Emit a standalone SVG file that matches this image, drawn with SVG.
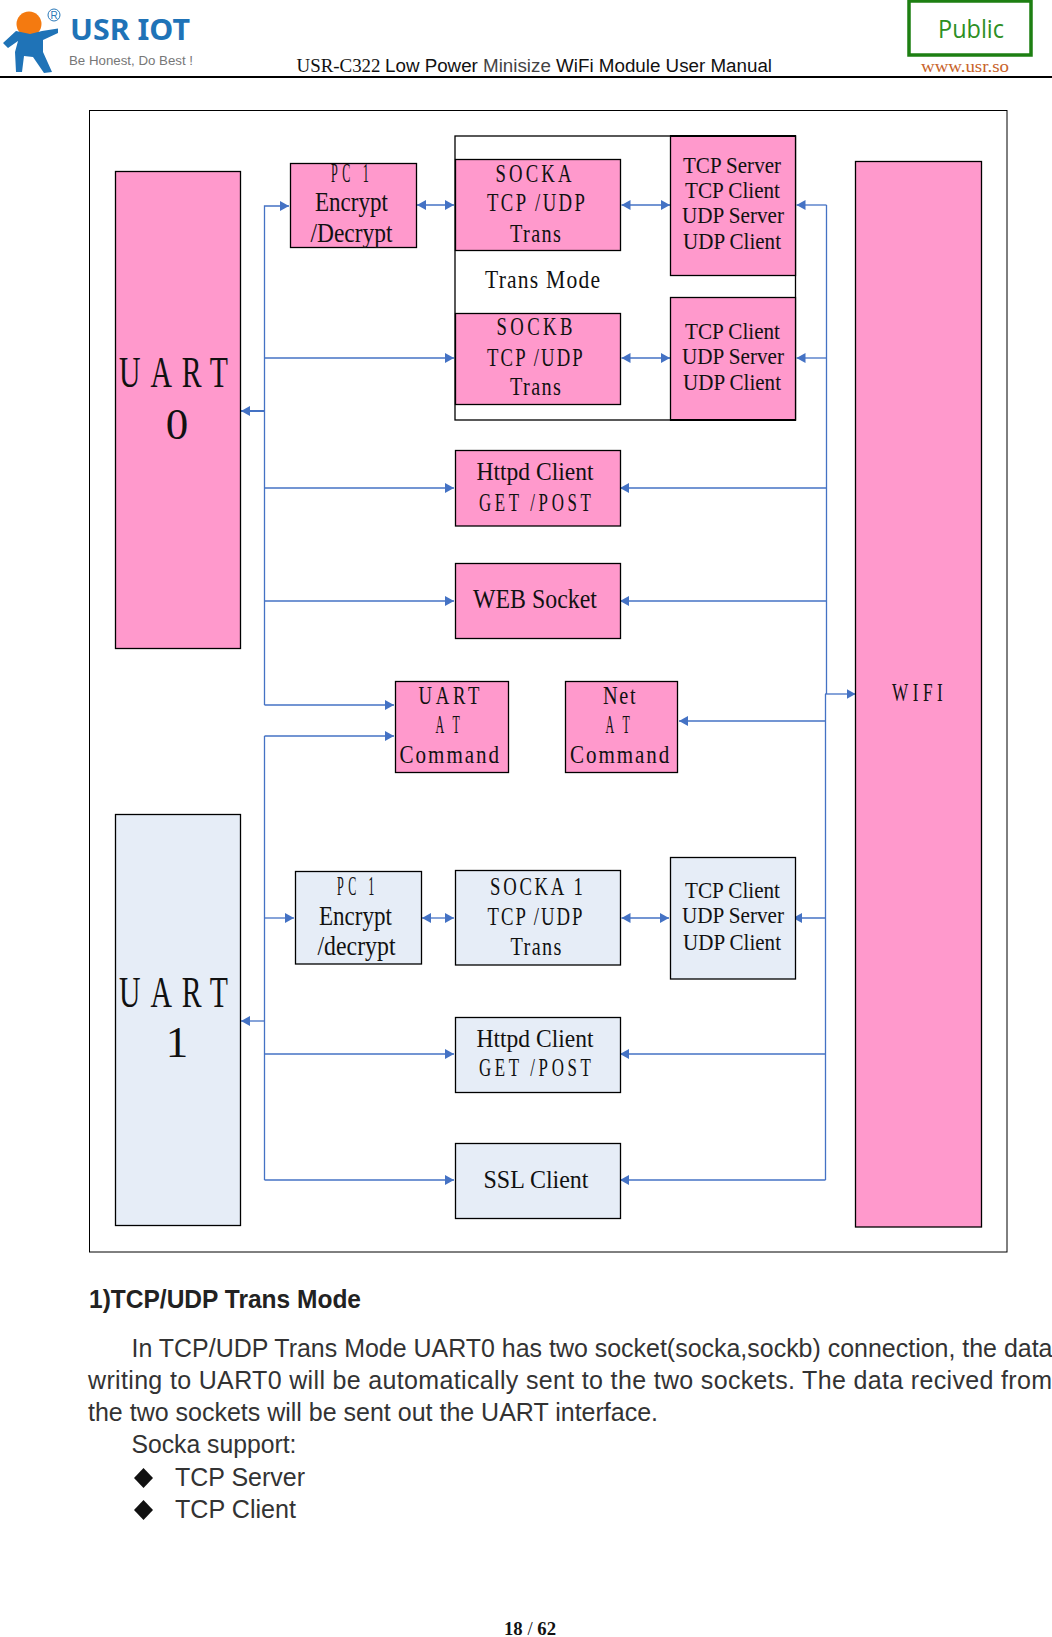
<svg xmlns="http://www.w3.org/2000/svg" width="1052" height="1637" viewBox="0 0 1052 1637">
<style>
text{white-space:pre}
.t{font-family:"Liberation Serif","Times New Roman",serif;fill:#111}
.s24{font-size:26px}.s22{font-size:23px}.s26{font-size:27px}.s40{font-size:45px}
.a{font-family:"Liberation Sans",Arial,sans-serif;fill:#333;font-size:25px}
.pink{fill:#ff99cc;stroke:#000;stroke-width:1.3}
.blue{fill:#e6edf7;stroke:#000;stroke-width:1.3}
.c{fill:none;stroke:#4472c4;stroke-width:1.3}
.e{marker-end:url(#ah)}
.d{marker-start:url(#ahs);marker-end:url(#ah)}
</style>
<defs>
<marker id="ah" markerUnits="userSpaceOnUse" markerWidth="10" markerHeight="12" refX="9" refY="6" orient="auto"><path d="M0 1L9 6L0 11Z" fill="#4472c4"/></marker>
<marker id="ahs" markerUnits="userSpaceOnUse" markerWidth="10" markerHeight="12" refX="1" refY="6" orient="auto"><path d="M10 1L1 6L10 11Z" fill="#4472c4"/></marker>
</defs>
<rect width="1052" height="1637" fill="#fff"/>

<g id="header">
<circle cx="29" cy="24" r="12.500" fill="#f47a10"/>
<path d="M3 43L16 31L30 34L42 31L58 28.500L58 33L43 40L43 52L52 72L44 73L33 57L24 56L22 72L16 72L15 52L18 41L8 48Z" fill="#1f73b7"/>
<circle cx="54" cy="15" r="6" fill="none" stroke="#2a78b8" stroke-width="1"/>
<text x="54" y="19" text-anchor="middle" font-family="Liberation Sans,sans-serif" font-size="10" fill="#2a78b8">R</text>
<text x="70" y="40" font-family="'Noto Sans',sans-serif" font-weight="700" font-size="29" fill="#1f73b7" textLength="120" lengthAdjust="spacingAndGlyphs">USR IOT</text>
<text x="69" y="65" font-family="'Liberation Sans',sans-serif" font-size="13" fill="#777" textLength="124" lengthAdjust="spacingAndGlyphs">Be Honest, Do Best !</text>
<text x="296.500" y="72" class="t" font-size="18" textLength="84" lengthAdjust="spacingAndGlyphs">USR-C322</text>
<text x="385" y="72" font-family="'Liberation Sans',sans-serif" font-size="18" fill="#111" textLength="387" lengthAdjust="spacingAndGlyphs">Low Power <tspan fill="#444">Minisize</tspan> WiFi Module User Manual</text>
<rect x="909" y="1" width="122" height="54" fill="#fff" stroke="#1d7f12" stroke-width="3.500"/>
<text x="971" y="38" text-anchor="middle" font-family="'Open Sans',sans-serif" font-size="25" font-weight="400" fill="#2d8f23" textLength="66" lengthAdjust="spacingAndGlyphs">Public</text>
<text x="921" y="72" class="t" font-size="16" style="fill:#c8632a" textLength="88" lengthAdjust="spacingAndGlyphs">www.usr.so</text>
<rect x="0" y="76" width="1052" height="2" fill="#000"/>
</g>

<rect id="frame" x="89.500" y="110.500" width="917.500" height="1141.500" fill="#fff" stroke="#000" stroke-width="1"/>
<rect id="trans-mode-box" x="455" y="136" width="340.500" height="284" fill="#fff" stroke="#000" stroke-width="1.300"/>

<g id="connectors">
<path class="c e" d="M264.500 705H394"/>
<path class="c e" d="M264.500 705V206H289"/>
<path class="c e" d="M264.500 358H454"/>
<path class="c e" d="M264.500 488H454"/>
<path class="c e" d="M264.500 601H454"/>
<path class="c e" style="stroke-width:2" d="M264.500 411H241"/>
<path class="c e" d="M264.500 736H394"/>
<path class="c" d="M264.500 736V1180"/>
<path class="c e" d="M264.500 918H294"/>
<path class="c e" d="M264.500 1054H454"/>
<path class="c e" d="M264.500 1180H454"/>
<path class="c e" d="M264.500 1021H241"/>
<path class="c d" d="M417 205H454"/>
<path class="c d" d="M621.500 205H670"/>
<path class="c d" d="M621.500 358H670"/>
<path class="c d" d="M422 918H454"/>
<path class="c d" d="M621.500 918H669"/>
<path class="c e" d="M826.500 205H796.500"/>
<path class="c e" d="M826.500 358H796.500"/>
<path class="c" d="M826.500 205V694"/>
<path class="c e" d="M826.500 488H620"/>
<path class="c e" d="M826.500 601H620"/>
<path class="c e" d="M825 694H855.500"/>
<path class="c" d="M825.500 694V1180"/>
<path class="c e" d="M825.500 721H679"/>
<path class="c e" d="M825.500 918H793"/>
<path class="c e" d="M825.500 1054H620"/>
<path class="c e" d="M825.500 1180H620"/>
</g>

<g id="uart0"><rect class="pink" x="115.500" y="171.500" width="125" height="477"/>
<text class="t s40" transform="translate(119 387) scale(.66 1)" textLength="165">UART</text>
<text class="t s40" x="177" y="439" text-anchor="middle">0</text></g>

<g id="pc1-a"><rect class="pink" x="290.500" y="163.500" width="126" height="84"/>
<text class="t s26" transform="translate(331 182) scale(.45 1)" textLength="84">PC 1</text>
<text class="t s26" x="315" y="211" textLength="73" lengthAdjust="spacingAndGlyphs">Encrypt</text>
<text class="t s26" x="310.500" y="241.500" textLength="82" lengthAdjust="spacingAndGlyphs">/Decrypt</text></g>

<g id="socka"><rect class="pink" x="455.500" y="159.500" width="165" height="91"/>
<text class="t s24" transform="translate(495.500 182) scale(.72 1)" textLength="105.600">SOCKA</text>
<text class="t s24" transform="translate(487 211) scale(.72 1)" textLength="136">TCP /UDP</text>
<text class="t s24" transform="translate(510 241.500) scale(.78 1)" textLength="65.400">Trans</text></g>

<g id="sockb"><rect class="pink" x="455.500" y="313.500" width="165" height="91"/>
<text class="t s24" transform="translate(496.500 335) scale(.72 1)" textLength="105.600">SOCKB</text>
<text class="t s24" transform="translate(487 366) scale(.72 1)" textLength="133">TCP /UDP</text>
<text class="t s24" transform="translate(510 395) scale(.78 1)" textLength="65.400">Trans</text></g>

<text id="trans-mode" class="t s24" transform="translate(485 288) scale(.83 1)" textLength="138.600">Trans Mode</text>

<g id="modes-a"><rect class="pink" x="670.500" y="136" width="125" height="139.500"/>
<path d="M670 136H796" stroke="#000" stroke-width="2"/>
<text class="t s22" x="683" y="173" textLength="98" lengthAdjust="spacingAndGlyphs">TCP Server</text>
<text class="t s22" x="685" y="198" textLength="95" lengthAdjust="spacingAndGlyphs">TCP Client</text>
<text class="t s22" x="682" y="223" textLength="102" lengthAdjust="spacingAndGlyphs">UDP Server</text>
<text class="t s22" x="683" y="249" textLength="98" lengthAdjust="spacingAndGlyphs">UDP Client</text></g>

<g id="modes-b"><rect class="pink" x="670.500" y="297.500" width="125" height="122.500"/>
<path d="M670 420H796" stroke="#000" stroke-width="2"/>
<text class="t s22" x="685" y="339" textLength="95" lengthAdjust="spacingAndGlyphs">TCP Client</text>
<text class="t s22" x="682" y="364" textLength="102" lengthAdjust="spacingAndGlyphs">UDP Server</text>
<text class="t s22" x="683" y="390" textLength="98" lengthAdjust="spacingAndGlyphs">UDP Client</text></g>

<g id="httpd-a"><rect class="pink" x="455.500" y="450.500" width="165" height="75.500"/>
<text class="t s24" x="476.500" y="480" textLength="117" lengthAdjust="spacingAndGlyphs">Httpd Client</text>
<text class="t s24" transform="translate(479 511) scale(.65 1)" textLength="172">GET /POST</text></g>

<g id="web-socket"><rect class="pink" x="455.500" y="563.500" width="165" height="75"/>
<text class="t s26" x="473" y="608" textLength="124" lengthAdjust="spacingAndGlyphs">WEB Socket</text></g>

<g id="uart-at"><rect class="pink" x="395.500" y="681.500" width="113" height="91"/>
<text class="t s24" transform="translate(418.500 704) scale(.72 1)" textLength="84.700">UART</text>
<text class="t s24" transform="translate(435.500 733) scale(.46 1)" textLength="53">AT</text>
<text class="t s24" transform="translate(399.500 763) scale(.81 1)" textLength="123">Command</text></g>

<g id="net-at"><rect class="pink" x="565.500" y="681.500" width="112" height="91"/>
<text class="t s24" transform="translate(603 704) scale(.78 1)" textLength="41.700">Net</text>
<text class="t s24" transform="translate(605.500 733) scale(.46 1)" textLength="53">AT</text>
<text class="t s24" transform="translate(570 763) scale(.81 1)" textLength="122.500">Command</text></g>

<g id="uart1"><rect class="blue" x="115.500" y="814.500" width="125" height="411"/>
<text class="t s40" transform="translate(119 1007) scale(.66 1)" textLength="165">UART</text>
<text class="t s40" x="177" y="1057" text-anchor="middle">1</text></g>

<g id="pc1-b"><rect class="blue" x="295.500" y="871.500" width="126" height="92.500"/>
<text class="t s26" transform="translate(337 895) scale(.45 1)" textLength="83">PC 1</text>
<text class="t s26" x="319" y="925" textLength="73" lengthAdjust="spacingAndGlyphs">Encrypt</text>
<text class="t s26" x="317.500" y="955" textLength="78" lengthAdjust="spacingAndGlyphs">/decrypt</text></g>

<g id="socka1"><rect class="blue" x="455.500" y="870.500" width="165" height="94.500"/>
<text class="t s24" transform="translate(490 895) scale(.72 1)" textLength="129">SOCKA 1</text>
<text class="t s24" transform="translate(487.500 925) scale(.72 1)" textLength="132">TCP /UDP</text>
<text class="t s24" transform="translate(510.500 955) scale(.78 1)" textLength="65.400">Trans</text></g>

<g id="modes-c"><rect class="blue" x="670.500" y="857.500" width="125" height="121.500"/>
<text class="t s22" x="685" y="898" textLength="95" lengthAdjust="spacingAndGlyphs">TCP Client</text>
<text class="t s22" x="682" y="923" textLength="102" lengthAdjust="spacingAndGlyphs">UDP Server</text>
<text class="t s22" x="683" y="950" textLength="98" lengthAdjust="spacingAndGlyphs">UDP Client</text></g>

<g id="httpd-b"><rect class="blue" x="455.500" y="1017.500" width="165" height="75"/>
<text class="t s24" x="476.500" y="1047" textLength="117" lengthAdjust="spacingAndGlyphs">Httpd Client</text>
<text class="t s24" transform="translate(479 1076) scale(.65 1)" textLength="172">GET /POST</text></g>

<g id="ssl-client"><rect class="blue" x="455.500" y="1143.500" width="165" height="75"/>
<text class="t s24" x="483.500" y="1188" textLength="105" lengthAdjust="spacingAndGlyphs">SSL Client</text></g>

<g id="wifi"><rect class="pink" x="855.500" y="161.500" width="126" height="1065.500"/>
<text class="t s24" transform="translate(892 701) scale(.66 1)" textLength="77">WIFI</text></g>

<g id="body">
<text x="89" y="1308" font-family="'Liberation Sans',Arial,sans-serif" font-weight="700" font-size="25" fill="#222" textLength="272" lengthAdjust="spacingAndGlyphs">1)TCP/UDP Trans Mode</text>
<text class="a" x="131.500" y="1357" textLength="921" lengthAdjust="spacingAndGlyphs">In TCP/UDP Trans Mode UART0 has two socket(socka,sockb) connection, the data</text>
<text class="a" x="88" y="1389" textLength="964">writing to UART0 will be automatically sent to the two sockets. The data recived from</text>
<text class="a" x="88" y="1421" textLength="570" lengthAdjust="spacingAndGlyphs">the two sockets will be sent out the UART interface.</text>
<text class="a" x="131.500" y="1453" textLength="165" lengthAdjust="spacingAndGlyphs">Socka support:</text>
<path d="M143.500 1468L153 1478L143.500 1488L134 1478Z" fill="#111"/>
<text class="a" x="175" y="1486" textLength="130" lengthAdjust="spacingAndGlyphs">TCP Server</text>
<path d="M143.500 1500L153 1510L143.500 1520L134 1510Z" fill="#111"/>
<text class="a" x="175" y="1518" textLength="121" lengthAdjust="spacingAndGlyphs">TCP Client</text>
<text class="t" x="504" y="1635" font-size="18" font-weight="700" textLength="52" lengthAdjust="spacingAndGlyphs">18 <tspan font-weight="400">/</tspan> 62</text>
</g>
</svg>
